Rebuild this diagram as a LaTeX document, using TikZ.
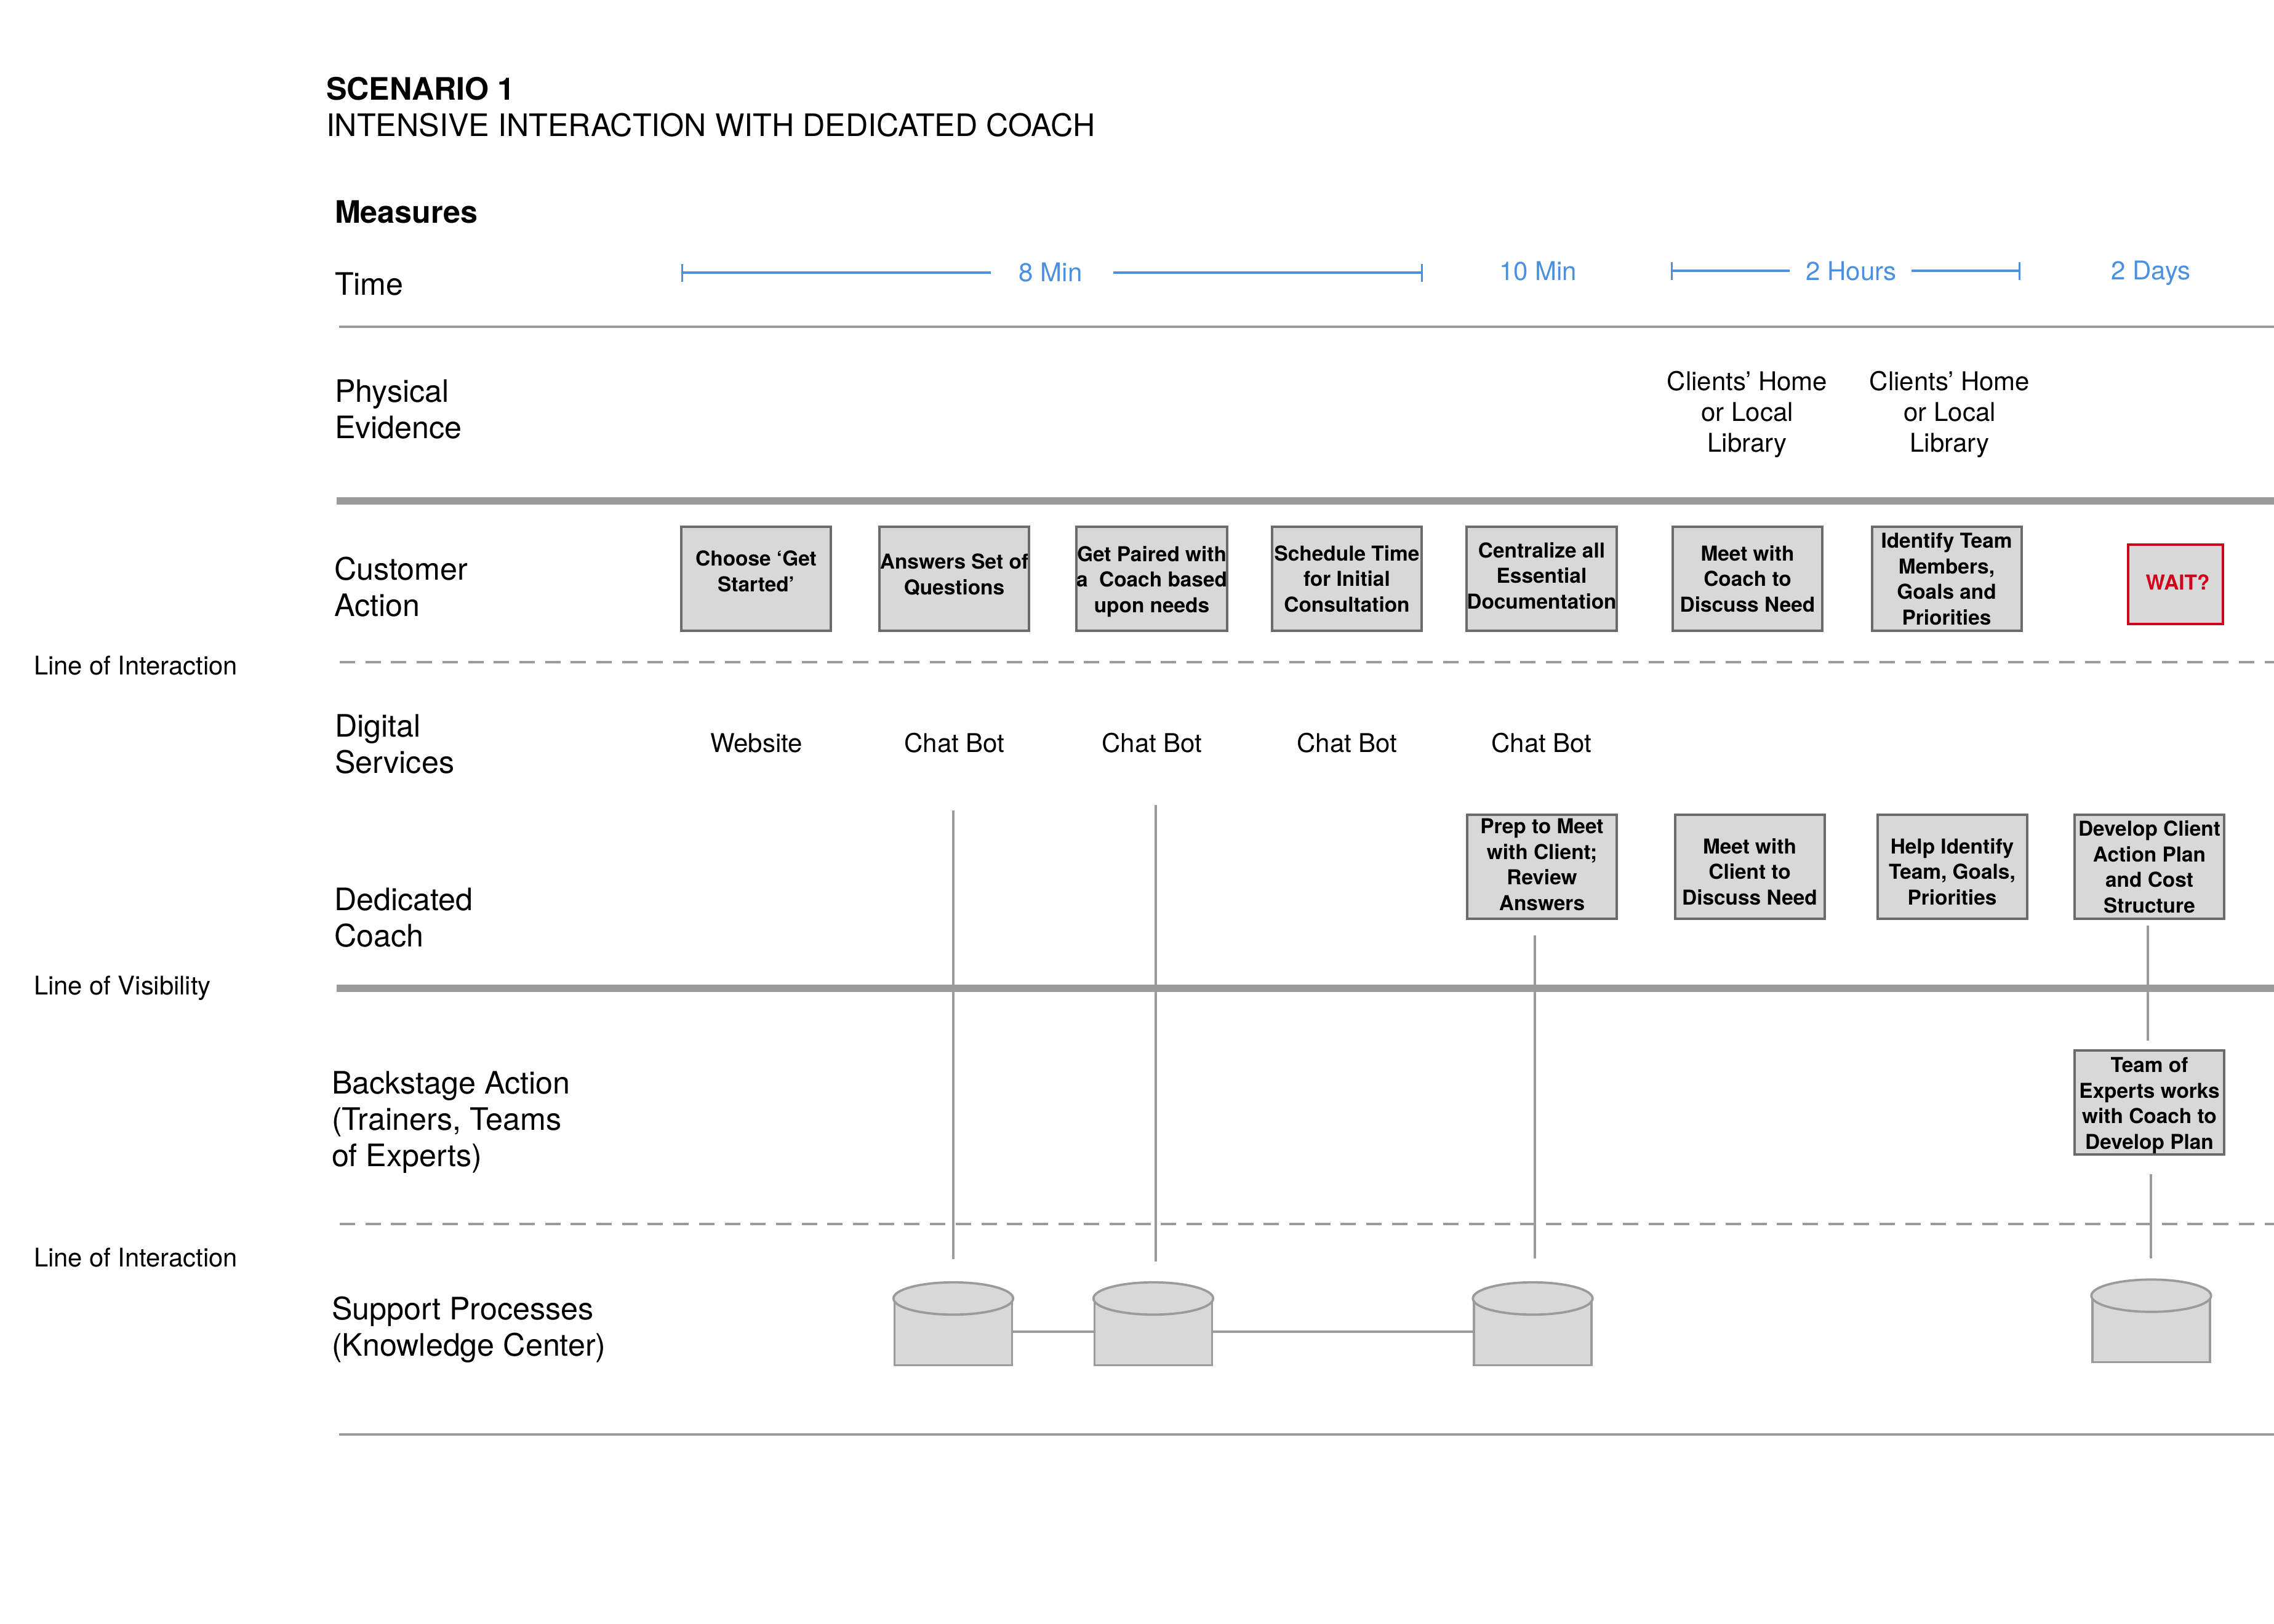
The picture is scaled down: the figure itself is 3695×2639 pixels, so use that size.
\documentclass[tikz,border=0pt]{standalone}
\usepackage{fontspec}
\setmainfont{TeX Gyre Heros}
\usetikzlibrary{arrows.meta,shapes.geometric}
\definecolor{linegray}{HTML}{9B9B9B}
\definecolor{boxedge}{HTML}{6B6B6B}
\definecolor{boxfill}{HTML}{D8D8D8}
\definecolor{timeblue}{HTML}{4A90E2}
\definecolor{waitred}{HTML}{D0021B}
\newcommand{\up}[1]{\rule[-#1pt]{0pt}{#1pt}}
\newcommand{\dn}[1]{\rule{0pt}{#1pt}}
\tikzset{
  maintext/.style={inner sep=0pt,outer sep=0pt,align=left,anchor=west,font=\fontsize{10.05pt}{11.8pt}\selectfont},
  sidetext/.style={inner sep=0pt,outer sep=0pt,anchor=west,font=\fontsize{8.35pt}{10pt}\selectfont},
  headtext/.style={maintext,font=\fontsize{10.05pt}{11.8pt}\selectfont\bfseries},
  midtext/.style={inner sep=0pt,outer sep=0pt,align=center,font=\fontsize{8.4pt}{10pt}\selectfont},
  timetext/.style={midtext,text=timeblue},
  stepbox/.style={draw=boxedge,fill=boxfill,line width=.8pt,minimum width=48.6pt,minimum height=33.8pt,inner sep=0pt,outer sep=0pt,align=center,font=\fontsize{6.68pt}{8.3pt}\selectfont\bfseries},
  waitbox/.style={draw=waitred,fill=boxfill,line width=.8pt,minimum width=30.8pt,minimum height=25.8pt,inner sep=0pt,outer sep=0pt,text=waitred,font=\fontsize{6.68pt}{8.3pt}\selectfont\bfseries},
  thinline/.style={draw=linegray,line width=.8pt},
  thickline/.style={draw=linegray,line width=2.4pt},
  dashline/.style={draw=linegray,line width=.8pt,dash pattern=on 5pt off 3.34pt},
  vline/.style={draw=linegray,line width=.7pt},
  timeline/.style={draw=timeblue,line width=.8pt},
  cylbody/.style={draw=linegray,fill=boxfill,line width=.75pt,minimum width=38.2pt,minimum height=21.8pt,inner sep=0pt,outer sep=0pt},
  cyltop/.style={draw=linegray,fill=boxfill,line width=.75pt,ellipse,minimum width=38.9pt,minimum height=10.5pt,inner sep=0pt,outer sep=0pt},
  tbar/.tip={Bar[width=5.8pt,line width=.6pt]}
}
\begin{document}
\begin{tikzpicture}[x=0.2pt,y=-0.2pt]
\useasboundingbox (0,0) rectangle (3695,2639);
% coordinates for free line ends
\coordinate (t0) at (551,531);   \coordinate (t0e) at (3695,531);
\coordinate (k1) at (547,814);   \coordinate (k1e) at (3695,814);
\coordinate (d1) at (552,1076);  \coordinate (d1e) at (3695,1076);
\coordinate (k2) at (547,1606);  \coordinate (k2e) at (3695,1606);
\coordinate (d2) at (552,1989);  \coordinate (d2e) at (3695,1989);
\coordinate (b0) at (551,2331);  \coordinate (b0e) at (3695,2331);
\draw[thinline] (t0) -- (t0e);
\draw[thickline] (k1) -- (k1e);
\draw[dashline] (d1) -- (d1e);
\draw[thickline] (k2) -- (k2e);
\draw[dashline] (d2) -- (d2e);
\draw[thinline] (b0) -- (b0e);
% title and row labels
\node[headtext] (title1) at (530,144) {SCENARIO 1};
\node[maintext] (title2) at (530,203) {INTENSIVE INTERACTION WITH DEDICATED COACH};
\node[headtext] (measures) at (544,344) {Measures};
\node[maintext] (time) at (544,462) {Time};
\node[maintext] (physical) at (544,665) {Physical\\Evidence};
\node[maintext] (customer) at (543,954) {Customer\\Action};
\node[maintext] (digital) at (544,1209) {Digital\\Services};
\node[maintext] (coach) at (543,1491) {Dedicated\\Coach};
\node[maintext] (backstage) at (539,1824) {Backstage Action\\(Trainers, Teams\\of Experts)};
\node[maintext] (support) at (539,2161) {Support Processes\\(Knowledge Center)};
\node[sidetext] (li1) at (55,1082) {Line of Interaction};
\node[sidetext] (lv) at (55,1606) {Line of Visibility};
\node[sidetext] (li2) at (55,2044) {Line of Interaction};
% time
\node[timetext] (min8) at (1707,443) {8 Min};
\node[timetext] (min10) at (2499,440) {10 Min};
\node[timetext] (hours2) at (3008,440) {2 Hours};
\node[timetext] (days2) at (3495,444) {2 Days};
\coordinate (a1) at (1107,443); \coordinate (a2) at (1610,443);
\coordinate (a3) at (1809,443); \coordinate (a4) at (2312,443);
\coordinate (a5) at (2715,440); \coordinate (a6) at (2908,440);
\coordinate (a7) at (3106,440); \coordinate (a8) at (3283,440);
\draw[timeline,tbar-] (a1) -- (a2);
\draw[timeline,-tbar] (a3) -- (a4);
\draw[timeline,tbar-] (a5) -- (a6);
\draw[timeline,-tbar] (a7) -- (a8);
% physical evidence
\node[midtext] (home1) at (2839,673) {Clients’ Home\\or Local\\Library};
\node[midtext] (home2) at (3168,673) {Clients’ Home\\or Local\\Library};
% customer action
\node[stepbox] (c1) at (1228.5,940.5) {Choose ‘Get\\Started’\up{4.9}};
\node[stepbox] (c2) at (1550.5,940.5) {Answers Set of\\Questions\up{3}};
\node[stepbox] (c3) at (1871.5,940.5) {\dn{6.8}Get Paired with\\a\ \ Coach based\\upon needs};
\node[stepbox] (c4) at (2188.5,940.5) {Schedule Time\\for Initial\\Consultation};
\node[stepbox] (c5) at (2505,940.5) {Centralize all\\Essential\\Documentation\up{2}};
\node[stepbox] (c6) at (2839.5,940.5) {Meet with\\Coach to\\Discuss Need};
\node[stepbox] (c7) at (3163,940.5) {Identify Team\\Members,\\Goals and\\Priorities};
\node[waitbox] (wait) at (3535,949.5) {\hspace*{1.4pt}WAIT?\up{1.4}};
% digital services
\node[midtext] (s1) at (1229,1207) {Website};
\node[midtext] (s2) at (1551,1207) {Chat Bot};
\node[midtext] (s3) at (1872,1207) {Chat Bot};
\node[midtext] (s4) at (2189,1207) {Chat Bot};
\node[midtext] (s5) at (2505,1207) {Chat Bot};
% dedicated coach
\node[stepbox] (p1) at (2505.5,1408.5) {Prep to Meet\\with Client;\\Review\\Answers\up{1.4}};
\node[stepbox] (p2) at (2843,1408.5) {\dn{8.1}Meet with\\Client to\\Discuss Need};
\node[stepbox] (p3) at (3172,1408.5) {\dn{8.1}Help Identify\\Team, Goals,\\Priorities};
\node[stepbox] (p4) at (3492.5,1408.5) {Develop Client\\Action Plan\\and Cost\\Structure};
\node[stepbox] (team) at (3492.5,1791.5) {\dn{6.8}Team of\\Experts works\\with Coach to\\Develop Plan};
% vertical lines
\coordinate (v1a) at (1549,1317); \coordinate (v1b) at (1549,2046);
\coordinate (v2a) at (1878,1308); \coordinate (v2b) at (1878,2050);
\coordinate (v3a) at (2494,1520); \coordinate (v3b) at (2494,2045);
\coordinate (v4a) at (3490,1504); \coordinate (v4b) at (3490,1691);
\coordinate (v5a) at (3495,1908); \coordinate (v5b) at (3495,2045);
\draw[vline] (v1a) -- (v1b);
\draw[vline] (v2a) -- (v2b);
\draw[vline] (v3a) -- (v3b);
\draw[vline] (v4a) -- (v4b);
\draw[vline] (v5a) -- (v5b);
% knowledge centre cylinders
\node[cylbody] (b1) at (1549,2164) {};
\node[cylbody] (b2) at (1874,2164) {};
\node[cylbody] (b3) at (2490.5,2164) {};
\node[cylbody] (b4) at (3495.5,2159) {};
\node[cyltop] (e1) at (1549,2110) {};
\node[cyltop] (e2) at (1874,2110) {};
\node[cyltop] (e3) at (2490.5,2110) {};
\node[cyltop] (e4) at (3495.5,2105.5) {};
\draw[thinline] (b1.east) -- (b2.west);
\draw[thinline] (b2.east) -- (b3.west);
\end{tikzpicture}
\end{document}
